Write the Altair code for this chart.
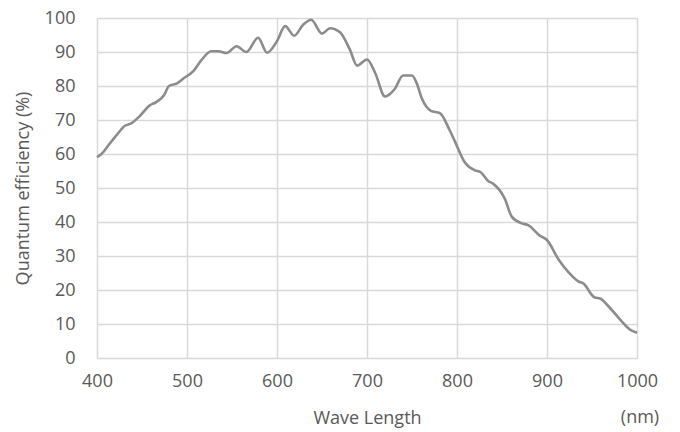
import altair as alt
import pandas as pd

wavelength = [400, 405, 414, 422, 431, 438, 448, 459, 464, 474, 480, 489, 496, 507, 516,
              527, 535, 544, 555, 566, 579, 589, 600, 609, 619, 629, 638, 650, 659, 670,
              681, 689, 700, 709, 720, 731, 740, 750, 755, 761, 771, 781, 792, 798, 809,
              820, 826, 835, 840, 853, 861, 872, 879, 892, 900, 913, 924, 935, 940, 953,
              959, 970, 983, 992, 1000]
qe = [59.1, 60.0, 63.0, 65.6, 68.3, 69.0, 71.3, 74.4, 75.0, 77.1, 80.0, 80.8, 82.2, 84.4, 87.6,
      90.2, 90.2, 89.7, 91.7, 90.0, 94.2, 89.8, 93.2, 97.6, 94.8, 98.0, 99.5, 95.4, 97.0, 95.8,
      90.7, 86.0, 87.8, 83.9, 76.9, 79.2, 83.1, 83.1, 81.0, 76.3, 72.7, 72.0, 66.9, 63.5, 57.4,
      55.2, 54.7, 52.0, 51.3, 46.9, 41.5, 39.6, 39.1, 36.0, 34.7, 28.9, 25.2, 22.5, 22.0, 17.8,
      17.5, 14.7, 10.8, 8.4, 7.4]

x_ticks = [400, 500, 600, 700, 800, 900, 1000]
y_ticks = [0, 10, 20, 30, 40, 50, 60, 70, 80, 90, 100]

df = pd.DataFrame({"wl": wavelength, "qe": qe})

FONT = "Open Sans"
TXT = "#595959"
FS = 18

line = alt.Chart(df).mark_line(color="#8c8c8c", strokeWidth=2.6, interpolate="monotone").encode(
    x=alt.X("wl:Q", scale=alt.Scale(domain=[400, 1000], nice=False),
            axis=alt.Axis(values=x_ticks, title="Wave Length", grid=True, domain=False, ticks=False,
                          labelPadding=14, titlePadding=19, format="d", labelFlush=False)),
    y=alt.Y("qe:Q", scale=alt.Scale(domain=[0, 100], nice=False),
            axis=alt.Axis(values=y_ticks, title="Quantum efficiency (%)", grid=True, domain=False,
                          ticks=False, labelPadding=22, titlePadding=12, labelFlush=False)),
)

unit = alt.Chart(pd.DataFrame({"t": ["(nm)"]})).mark_text(
    font=FONT, fontSize=FS, color=TXT, align="center", baseline="alphabetic"
).encode(text="t:N", x=alt.value(543), y=alt.value(405))

chart = (line + unit).properties(
    width=540, height=340,
    autosize=alt.AutoSizeParams(type="none"),
    padding={"left": 89, "top": 10, "right": 30, "bottom": 72},
).configure_view(stroke=None).configure_axis(
    gridColor="#d9d9d9", gridWidth=1.5,
    labelFont=FONT, labelFontSize=FS, labelColor=TXT,
    titleFont=FONT, titleFontSize=FS, titleColor=TXT, titleFontWeight="normal",
)

chart.save("out.html", embed_options={"renderer": "svg", "actions": False})
